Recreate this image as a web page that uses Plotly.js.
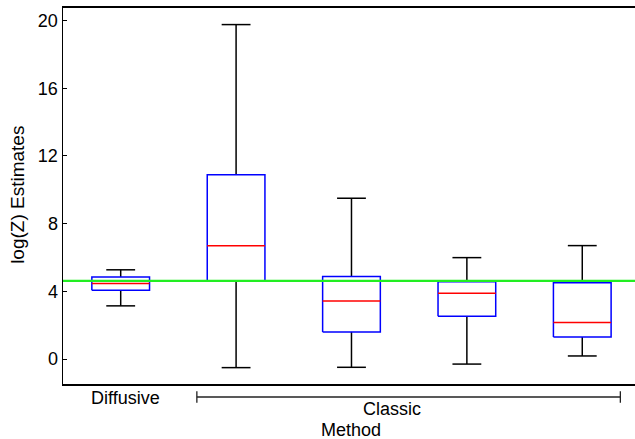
<!DOCTYPE html>
<html>
<head>
<meta charset="utf-8">
<script src="https://cdn.plot.ly/plotly-3.0.1.min.js"></script>
<style>html,body{margin:0;padding:0;background:#fff;}#chart{width:635px;height:439px;}</style>
</head>
<body>
<div id="chart"></div>
<script>
// Data
var positions = [1, 2, 3, 4, 5];
var methods = ["Diffusive", "Classic", "Classic", "Classic", "Classic"];
var whiskerLow = [3.14, -0.51, -0.49, -0.30, 0.18];
var q1Values = [4.06, 4.63, 1.60, 2.52, 1.30];
var medians = [4.46, 6.69, 3.43, 3.89, 2.15];
var q3Values = [4.85, 10.89, 4.87, 4.56, 4.51];
var whiskerHigh = [5.27, 19.76, 9.50, 5.99, 6.70];
var trueValue = 4.62;
var yTicks = [0, 4, 8, 12, 16, 20];

var halfBox = 0.25, halfCap = 0.125;
var wx = [], wy = [], bx = [], by = [], mx = [], my = [];
for (var i = 0; i < positions.length; i++) {
  var p = positions[i];
  // whiskers: stems + caps
  wx.push(p, p, null, p, p, null, p - halfCap, p + halfCap, null, p - halfCap, p + halfCap, null);
  wy.push(q3Values[i], whiskerHigh[i], null, q1Values[i], whiskerLow[i], null,
          whiskerHigh[i], whiskerHigh[i], null, whiskerLow[i], whiskerLow[i], null);
  // box outline
  bx.push(p - halfBox, p + halfBox, p + halfBox, p - halfBox, p - halfBox, null);
  by.push(q1Values[i], q1Values[i], q3Values[i], q3Values[i], q1Values[i], null);
  // median
  mx.push(p - halfBox, p + halfBox, null);
  my.push(medians[i], medians[i], null);
}

var traces = [
  {x: wx, y: wy, mode: 'lines', line: {color: '#000', width: 1.5}, hoverinfo: 'skip', showlegend: false},
  {x: bx, y: by, mode: 'lines', line: {color: '#0000ff', width: 1.5}, hoverinfo: 'skip', showlegend: false},
  {x: mx, y: my, mode: 'lines', line: {color: '#ff0000', width: 1.5}, hoverinfo: 'skip', showlegend: false},
  {x: [0.5, 5.5], y: [trueValue, trueValue], mode: 'lines', line: {color: '#22ee22', width: 2.2}, hoverinfo: 'skip', showlegend: false}
];

var font = {family: 'Liberation Sans, Arial, sans-serif', size: 18, color: '#000'};
var layout = {
  width: 635, height: 439,
  margin: {l: 63, r: 0, t: 8, b: 55},
  paper_bgcolor: '#fff', plot_bgcolor: '#fff',
  font: font,
  showlegend: false,
  xaxis: {
    range: [0.5, 5.457], showgrid: false, zeroline: false, showticklabels: false, ticks: '',
    showline: true, linecolor: '#000', linewidth: 2, mirror: true
  },
  yaxis: {
    range: [-1.477, 20.74], tickvals: yTicks, ticktext: yTicks.map(String),
    ticks: 'inside', ticklen: 4, tickcolor: '#000', tickwidth: 1,
    showgrid: false, zeroline: false, showline: true, linecolor: '#000', linewidth: 1.5,
    tickfont: {family: 'Liberation Sans, Arial, sans-serif', size: 18, color: '#000'}
  },
  shapes: [
    {type: 'line', xref: 'x', yref: 'paper', x0: 1.66, x1: 5.33, y0: -0.0346, y1: -0.0346, line: {color: '#222', width: 1.3}},
    {type: 'line', xref: 'x', yref: 'paper', x0: 1.66, x1: 1.66, y0: -0.019, y1: -0.050, line: {color: '#222', width: 1.3}},
    {type: 'line', xref: 'x', yref: 'paper', x0: 5.33, x1: 5.33, y0: -0.019, y1: -0.050, line: {color: '#222', width: 1.3}}
  ],
  annotations: [
    {text: methods[0], x: positions[0] + 0.04, xref: 'x', y: 0, yref: 'paper', yanchor: 'middle', xanchor: 'center', yshift: -14, showarrow: false, font: font},
    {text: methods[1], x: 3.35, xref: 'x', y: 0, yref: 'paper', yanchor: 'middle', xanchor: 'center', yshift: -25, showarrow: false, font: font},
    {text: 'Method', x: 3.0, xref: 'x', y: 0, yref: 'paper', yanchor: 'middle', xanchor: 'center', yshift: -46, showarrow: false, font: font},
    {text: 'log(Z) Estimates', x: 0, xref: 'paper', xshift: -45, y: 0.503, yref: 'paper', xanchor: 'center', yanchor: 'middle', textangle: -90, showarrow: false, font: {family: 'Liberation Sans, Arial, sans-serif', size: 19, color: '#000'}}
  ]
};

Plotly.newPlot('chart', traces, layout, {displayModeBar: false, staticPlot: true});
</script>
</body>
</html>
